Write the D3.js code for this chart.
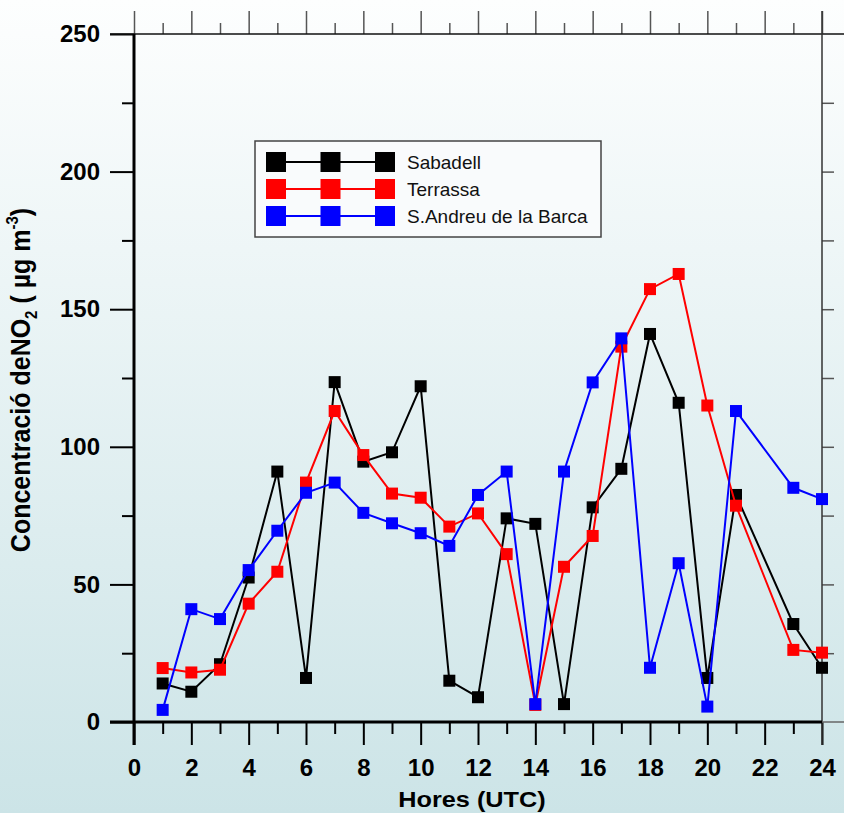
<!DOCTYPE html>
<html>
<head>
<meta charset="utf-8">
<script src="https://cdn.jsdelivr.net/npm/d3@7"></script>
<style>
  body { margin: 0; padding: 0; overflow: hidden; }
  svg { display: block; }
  text { font-family: Arial, "Liberation Sans", sans-serif; }
</style>
</head>
<body>
<div id="wrapper"></div>
<script>
// hours with data (hour 22 has no measurements)
const hours = [1, 2, 3, 4, 5, 6, 7, 8, 9, 10, 11, 12, 13, 14, 15, 16, 17, 18, 19, 20, 21, 23, 24];

const sabadell = [14, 11, 21, 52.5, 91, 16, 123.5, 94.6, 98, 122, 15, 9, 74, 72, 6.5, 78, 92, 141, 116, 16, 82.5, 35.6, 19.7];
const terrassa = [19.6, 18, 19, 43, 54.6, 87, 113, 97, 83, 81.5, 71, 75.8, 61, 6.2, 56.4, 67.6, 136.4, 157.3, 162.8, 115, 78.6, 26.2, 25.2];
const sAndreu = [4.4, 41, 37.4, 55.2, 69.5, 83.3, 87, 76, 72.2, 68.6, 64, 82.5, 91, 6.5, 91, 123.4, 139.4, 19.7, 57.7, 5.6, 113, 85.1, 81];

const seriesNames = ['Sabadell', 'Terrassa', 'S.Andreu de la Barca'];
const seriesColors = ['#000000', '#ff0000', '#0000ff'];

const xTicks = [0, 2, 4, 6, 8, 10, 12, 14, 16, 18, 20, 22, 24];
const yTicks = [0, 50, 100, 150, 200, 250];

const width = 844, height = 813;
const margin = { top: 34, right: 22, bottom: 91, left: 134 };

const svg = d3.select('#wrapper')
  .append('svg')
  .attr('width', width)
  .attr('height', height);

const defs = svg.append('defs');
const grad = defs.append('linearGradient')
  .attr('id', 'bg')
  .attr('x1', 0).attr('y1', 0).attr('x2', 0).attr('y2', 1);
grad.append('stop').attr('offset', '0%').attr('stop-color', '#fdfefe');
grad.append('stop').attr('offset', '100%').attr('stop-color', '#cce4e7');

svg.append('rect')
  .attr('width', width)
  .attr('height', height)
  .attr('fill', 'url(#bg)');

const x = d3.scaleLinear().domain([0, 24]).range([margin.left, width - margin.right]);
const y = d3.scaleLinear().domain([0, 250]).range([height - margin.bottom, margin.top]);

const x0 = x(0), x1 = x(24), y0 = y(0), y1 = y(250);

// axes
const minorX = d3.range(1, 24, 2);
const minorY = d3.range(25, 250, 50);

const bottom = svg.append('g')
  .attr('transform', 'translate(0,' + y0 + ')')
  .call(d3.axisBottom(x).tickValues(xTicks).tickSize(23).tickSizeOuter(0).tickPadding(14));
bottom.select('.domain').remove();
bottom.selectAll('line').attr('stroke', '#000').attr('stroke-width', 2);
bottom.selectAll('text')
  .attr('font-size', 24).attr('font-weight', 'bold').attr('fill', '#000');

svg.append('g')
  .attr('transform', 'translate(0,' + y0 + ')')
  .call(d3.axisBottom(x).tickValues(minorX).tickSize(12).tickFormat(''))
  .call(g => g.select('.domain').remove())
  .selectAll('line').attr('stroke', '#000').attr('stroke-width', 2);

const left = svg.append('g')
  .attr('transform', 'translate(' + x0 + ',0)')
  .call(d3.axisLeft(y).tickValues(yTicks).tickSize(24).tickPadding(10));
left.select('.domain').remove();
left.selectAll('line').attr('stroke', '#000').attr('stroke-width', 2);
left.selectAll('text')
  .attr('font-size', 24).attr('font-weight', 'bold').attr('fill', '#000');

svg.append('g')
  .attr('transform', 'translate(' + x0 + ',0)')
  .call(d3.axisLeft(y).tickValues(minorY).tickSize(12).tickFormat(''))
  .call(g => g.select('.domain').remove())
  .selectAll('line').attr('stroke', '#000').attr('stroke-width', 2);

// top and right axes, ticks only
svg.append('g')
  .attr('transform', 'translate(0,' + y1 + ')')
  .call(d3.axisTop(x).tickValues(xTicks).tickSize(23).tickFormat(''))
  .call(g => g.select('.domain').remove())
  .selectAll('line').attr('stroke', '#555').attr('stroke-width', 1.5);

svg.append('g')
  .attr('transform', 'translate(0,' + y1 + ')')
  .call(d3.axisTop(x).tickValues(minorX).tickSize(11).tickFormat(''))
  .call(g => g.select('.domain').remove())
  .selectAll('line').attr('stroke', '#555').attr('stroke-width', 1.5);

svg.append('g')
  .attr('transform', 'translate(' + x1 + ',0)')
  .call(d3.axisRight(y).tickValues(d3.range(25, 250, 25)).tickSize(12).tickFormat(''))
  .call(g => g.select('.domain').remove())
  .selectAll('line').attr('stroke', '#555').attr('stroke-width', 1.5);

// frame lines
svg.append('line')
  .attr('x1', x0 - 24).attr('x2', width).attr('y1', y1).attr('y2', y1)
  .attr('stroke', '#111').attr('stroke-width', 1.5);
svg.append('line')
  .attr('x1', x1).attr('x2', x1).attr('y1', y1 - 23).attr('y2', y0 + 23)
  .attr('stroke', '#333').attr('stroke-width', 1.5);
svg.append('line')
  .attr('x1', x1).attr('x2', width).attr('y1', y0).attr('y2', y0)
  .attr('stroke', '#666').attr('stroke-width', 1.5);
svg.append('line')
  .attr('x1', x0 - 24).attr('x2', x1).attr('y1', y0).attr('y2', y0)
  .attr('stroke', '#000').attr('stroke-width', 3);
svg.append('line')
  .attr('x1', x0).attr('x2', x0).attr('y1', y1).attr('y2', y0 + 23)
  .attr('stroke', '#000').attr('stroke-width', 3);

// axis titles (the original glyphs are a bit stretched across)
svg.append('text')
  .attr('transform', 'translate(' + ((x0 + x1) / 2 - 6) + ',807) scale(1.15,1)')
  .attr('text-anchor', 'middle')
  .attr('font-size', 22).attr('font-weight', 'bold')
  .text('Hores (UTC)');

const yTitle = svg.append('text')
  .attr('transform', 'translate(30,380) rotate(-90) scale(1,1.12)')
  .attr('text-anchor', 'middle')
  .attr('font-size', 25).attr('font-weight', 'bold');
yTitle.append('tspan').text('Concentració deNO');
yTitle.append('tspan').attr('font-size', 15).attr('dy', 6).text('2');
yTitle.append('tspan').attr('dy', -6).text(' ( µg m');
yTitle.append('tspan').attr('font-size', 15).attr('dy', -11).text('-3');
yTitle.append('tspan').attr('dy', 11).text(')');

// series
const allSeries = [sabadell, terrassa, sAndreu];
const line = d3.line()
  .x((d, i) => x(hours[i]))
  .y(d => y(d));

const ms = 12;
allSeries.forEach((vals, s) => {
  const g = svg.append('g');
  g.append('path')
    .datum(vals)
    .attr('d', line)
    .attr('fill', 'none')
    .attr('stroke', seriesColors[s])
    .attr('stroke-width', 2);
  g.selectAll('rect')
    .data(vals)
    .enter()
    .append('rect')
    .attr('x', (d, i) => x(hours[i]) - ms / 2)
    .attr('y', d => y(d) - ms / 2)
    .attr('width', ms)
    .attr('height', ms)
    .attr('fill', seriesColors[s]);
});

// legend
const lg = svg.append('g').attr('transform', 'translate(255,141)');
lg.append('rect')
  .attr('width', 346).attr('height', 96)
  .attr('fill', '#f9fbfc')
  .attr('stroke', '#444').attr('stroke-width', 1.5);

seriesNames.forEach((name, s) => {
  const cy = 21 + s * 27;
  lg.append('line')
    .attr('x1', 21).attr('x2', 130).attr('y1', cy).attr('y2', cy)
    .attr('stroke', seriesColors[s]).attr('stroke-width', 2);
  [21, 75.5, 130].forEach(cx => {
    lg.append('rect')
      .attr('x', cx - 10).attr('y', cy - 10)
      .attr('width', 20).attr('height', 20)
      .attr('fill', seriesColors[s]);
  });
  lg.append('text')
    .attr('x', 152).attr('y', cy + 7)
    .attr('font-size', 19).attr('fill', '#111')
    .text(name);
});
</script>
</body>
</html>
